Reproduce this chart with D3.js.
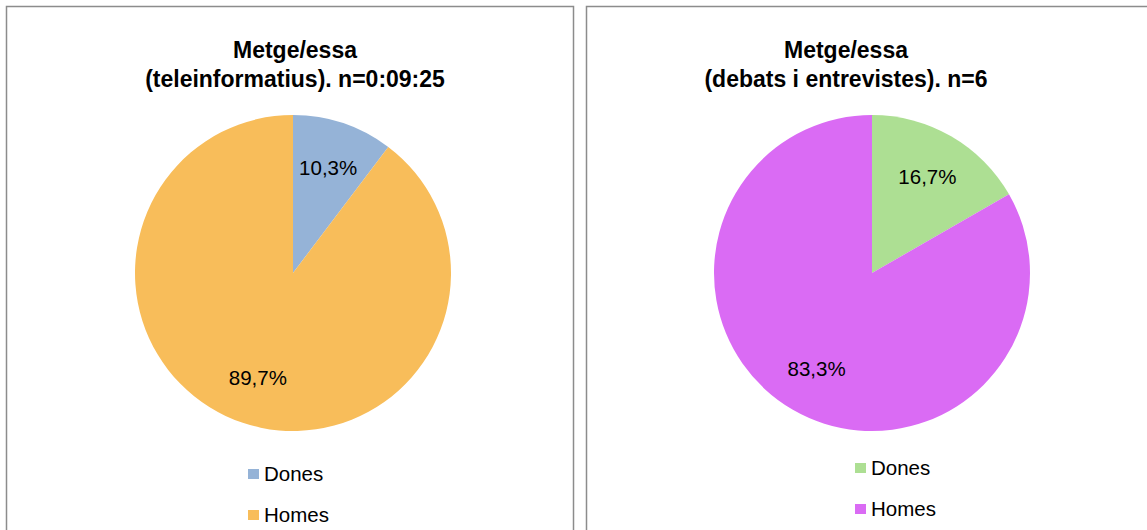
<!DOCTYPE html>
<html>
<head>
<meta charset="utf-8">
<script src="https://cdn.jsdelivr.net/npm/d3@7"></script>
<style>
  body { margin: 0; background: #fff; }
  svg { display: block; font-family: Arial, "Liberation Sans", sans-serif; }
</style>
</head>
<body>
<svg id="chart" width="1147" height="530"></svg>
<script>
// data
var categories = ["Dones", "Homes"];
var teleValues = [10.3, 89.7];
var debatValues = [16.7, 83.3];
var teleTitle = ["Metge/essa", "(teleinformatius). n=0:09:25"];
var debatTitle = ["Metge/essa", "(debats i entrevistes). n=6"];
var teleColors = ["#95b3d7", "#f8bd5a"];
var debatColors = ["#addf93", "#da6bf4"];

var svg = d3.select("#chart");

var fmt = function(v){ return d3.format(".1f")(v).replace(".", ",") + "%"; };

var draw_pie = function(panel, values, title, colors){
    var g = svg.append("g");

    // chart frame
    g.append("rect")
        .attr("x", panel.x).attr("y", panel.y)
        .attr("width", panel.w).attr("height", panel.h)
        .style("fill", "#fff").style("stroke", "#8c8c8c").style("stroke-width", 1.5);

    // title, two lines
    g.append("text")
        .attr("x", panel.titleX).attr("y", 58)
        .attr("text-anchor", "middle")
        .style("font-size", "23px").style("font-weight", "bold")
        .selectAll("tspan").data(title).enter().append("tspan")
        .attr("x", panel.titleX).attr("dy", function(d, i){ return i == 0 ? 0 : 29; })
        .text(function(d){ return d; });

    var color = d3.scaleOrdinal().domain(categories).range(colors);
    var pie = d3.pie().sort(null).value(function(d){ return d.v; });
    var arcs = pie(categories.map(function(c, i){ return {c: c, v: values[i]}; }));
    var arc = d3.arc().innerRadius(0).outerRadius(panel.r);
    var labelArc = d3.arc().innerRadius(panel.r * 0.7).outerRadius(panel.r * 0.7);

    var pg = g.append("g").attr("transform", "translate(" + panel.cx + "," + panel.cy + ")");
    pg.selectAll("path").data(arcs).enter().append("path")
        .attr("d", arc)
        .style("fill", function(d){ return color(d.data.c); });

    pg.selectAll("text").data(arcs).enter().append("text")
        .attr("transform", function(d){ return "translate(" + labelArc.centroid(d) + ")"; })
        .attr("text-anchor", "middle").attr("dy", "0.35em")
        .style("font-size", "20.5px").style("fill", "#000")
        .text(function(d){ return fmt(d.data.v); });

    // legend
    var lg = g.append("g");
    var items = lg.selectAll("g").data(categories).enter().append("g")
        .attr("transform", function(d, i){ return "translate(" + panel.legX + "," + (panel.legY + i * 41) + ")"; });
    items.append("rect")
        .attr("x", 0).attr("y", -12).attr("width", 11).attr("height", 10)
        .style("fill", function(d){ return color(d); });
    items.append("text")
        .attr("x", 16).attr("y", 0)
        .style("font-size", "20.5px").style("fill", "#000")
        .text(function(d){ return d; });
};

draw_pie({x: 6.5, y: 6.5, w: 567, h: 540, cx: 293, cy: 273, r: 158, titleX: 295, legX: 248, legY: 481},
    teleValues, teleTitle, teleColors);
draw_pie({x: 586.5, y: 6.5, w: 580, h: 540, cx: 872, cy: 273, r: 158, titleX: 846, legX: 855, legY: 475},
    debatValues, debatTitle, debatColors);
</script>
</body>
</html>
